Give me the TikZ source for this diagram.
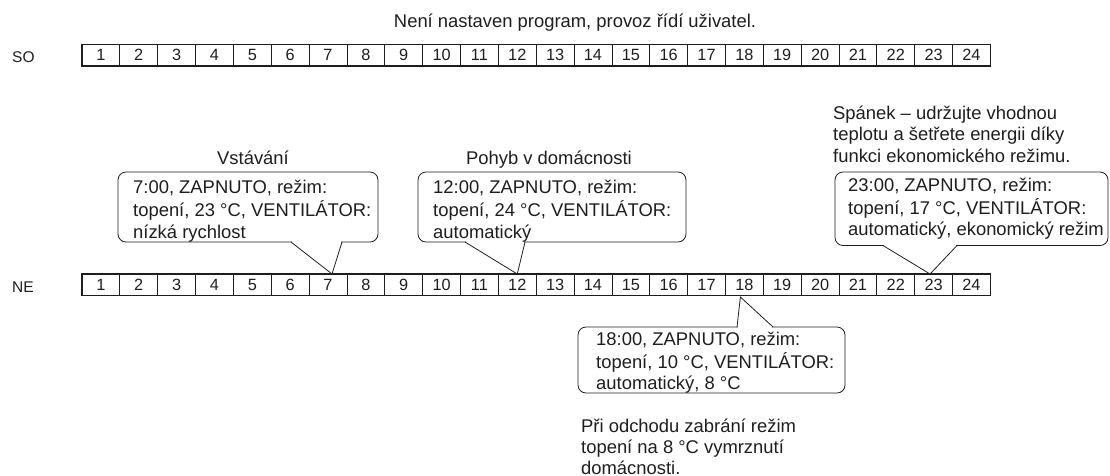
\documentclass[tikz,border=0pt]{standalone}
\usepackage{fontspec}
\setmainfont{Liberation Sans}
\usetikzlibrary{calc}
\definecolor{ink}{RGB}{30,30,30}
\newcommand{\txtfont}{\fontsize{18.4}{21.3}\selectfont}
\newcommand{\numfont}{\fontsize{16.3}{18}\selectfont}
\newcommand{\labfont}{\fontsize{15.5}{18}\selectfont}
\tikzset{
  cell/.style={draw=ink, line width=0.8pt, minimum width=37.85pt, minimum height=21.5pt,
    inner sep=0pt, outer sep=0pt, font=\numfont, text=ink},
  rowframe/.style={draw=ink, line width=1.4pt},
  cbox/.style={draw=ink, fill=white, line width=0.8pt, rounded corners=8pt,
    inner sep=0pt, outer sep=0pt, anchor=north west},
  ctext/.style={anchor=north west, inner sep=0pt, align=left, font=\txtfont, text=ink},
  plain/.style={inner sep=0pt, font=\txtfont, text=ink},
  erase/.style={draw=white, line width=1.8pt},
  ptr/.style={draw=ink, line width=0.8pt, line join=miter},
}
\begin{document}
\begin{tikzpicture}[x=1pt, y=-1pt]
\useasboundingbox (0,0) rectangle (1110,475);
\clip (0,0) rectangle (1110,475);

% title and row labels
\node[plain, anchor=base] (title) at (575,27) {Není nastaven program, provoz řídí uživatel.};
\node[plain, font=\labfont, anchor=base west] (so) at (12,62) {SO};
\node[plain, font=\labfont, anchor=base west] (ne) at (12,292) {NE};

% hour rows
\foreach \i in {1,...,24} {
  \node[cell] (so\i) at ({82+(\i-0.5)*37.85}, 55.25) {\i};
  \node[cell] (ne\i) at ({82+(\i-0.5)*37.85}, 284.75) {\i};
}
\draw[rowframe] (so1.north west) rectangle (so24.south east);
\draw[rowframe] (ne1.north west) rectangle (ne24.south east);

% headings above callouts
\node[plain, anchor=base] (vst) at (253,164) {Vstávání};
\node[plain, anchor=base] (poh) at (549,164) {Pohyb v domácnosti};
\node[ctext] (spanek) at (833,104.5) {\strut Spánek – udržujte vhodnou\\teplotu a šetřete energii díky\\funkci ekonomického režimu.};

% callout 1
\node[cbox, minimum width=260pt, minimum height=70pt] (b1) at (118,172) {};
\coordinate (p1l) at ($(b1.south west)+(173,0)$);
\coordinate (p1r) at ($(b1.south west)+(224,0)$);
\draw[erase] ($(p1l)+(0.7,0)$) -- ($(p1r)+(-0.7,0)$);
\draw[ptr] (p1l) -- ($(ne7.north)+(4,0)$) -- (p1r);
\node[ctext] (t1) at (133,178.25) {\strut 7:00, ZAPNUTO, režim:\\topení, 23 °C, VENTILÁTOR:\\nízká rychlost};

% callout 2
\node[cbox, minimum width=268pt, minimum height=70pt] (b2) at (418,172) {};
\coordinate (p2l) at ($(b2.south west)+(47,0)$);
\coordinate (p2r) at ($(b2.south west)+(107,0)$);
\draw[erase] ($(p2l)+(0.7,0)$) -- ($(p2r)+(-0.7,0)$);
\draw[ptr] (p2l) -- (ne12.north) -- (p2r);
\node[ctext] (t2) at (433,178.25) {\strut 12:00, ZAPNUTO, režim:\\topení, 24 °C, VENTILÁTOR:\\automatický};

% callout 3
\node[cbox, minimum width=273pt, minimum height=73.5pt] (b3) at (835,172) {};
\coordinate (p3l) at ($(b3.south west)+(48,0)$);
\coordinate (p3r) at ($(b3.south west)+(122,0)$);
\draw[erase] ($(p3l)+(0.7,0)$) -- ($(p3r)+(-0.7,0)$);
\draw[ptr] (p3l) -- ($(ne23.north)+(-3.6,0)$) -- (p3r);
\node[ctext] (t3) at (848,175.95) {\strut 23:00, ZAPNUTO, režim:\\topení, 17 °C, VENTILÁTOR:\\automatický, ekonomický režim};

% callout 4
\node[cbox, minimum width=267pt, minimum height=66pt] (b4) at (578,327) {};
\coordinate (p4l) at ($(b4.north west)+(159,0)$);
\coordinate (p4r) at ($(b4.north west)+(195,0)$);
\draw[erase] ($(p4l)+(0.7,0)$) -- ($(p4r)+(-0.7,0)$);
\draw[ptr] (p4l) -- ($(ne18.south)+(-4,1.5)$) -- (p4r);
\node[ctext] (t4) at (596,329.95) {\strut 18:00, ZAPNUTO, režim:\\topení, 10 °C, VENTILÁTOR:\\automatický, 8 °C};

% note below
\node[ctext] (note) at (581,416.95) {\strut Při odchodu zabrání režim\\topení na 8 °C vymrznutí\\domácnosti.};
\end{tikzpicture}
\end{document}
